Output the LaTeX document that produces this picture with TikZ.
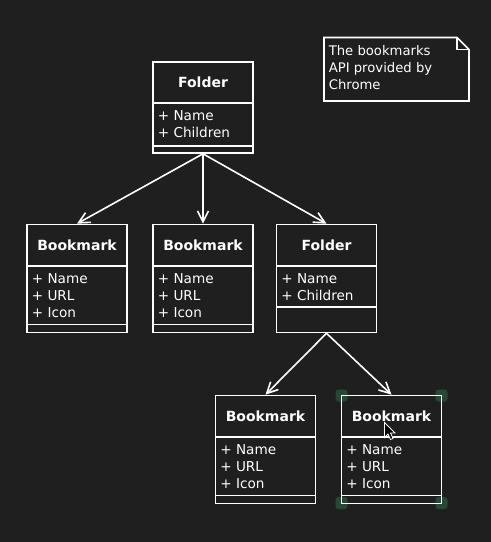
\documentclass[tikz,border=0pt]{standalone}
\usepackage{fontspec}
\setmainfont{DejaVu Sans}
\usepackage{tikz}
\usetikzlibrary{arrows.meta}
\definecolor{bg}{HTML}{1F1F1F}
\definecolor{handle}{HTML}{244A35}

\begin{document}
\begin{tikzpicture}[x=1pt,y=-1pt, white, line width=1.6pt,
    cls/.style={draw=white, minimum width=100pt, inner sep=0},
    title/.style={font=\fontsize{14}{17}\selectfont\bfseries, anchor=base, inner sep=0},
    attr/.style={font=\fontsize{13.6}{17}\selectfont, anchor=base west, inner sep=0},
    link/.style={draw=white, -{Straight Barb[length=11pt,width=11pt]}}]
    \fill[bg] (0,0) rectangle (491,542);
    \useasboundingbox (0,0) rectangle (491,542);
    % selection handles
    \foreach \hx/\hy in {341.5/395.5, 441.5/395.5, 341.5/503, 441.5/503}
        \fill[handle, rounded corners=3pt] ({\hx-6},{\hy-6}) rectangle ({\hx+6},{\hy+6});
    % top folder
    \node[cls, minimum height=91pt] (f0) at (203,107.5) {};
    \node[title] (f0t) at (203,87.5) {Folder};
    \draw (153,103) -- (253,103);
    \draw (153,146) -- (253,146);
    \node[attr] (f0a) at (157,120.5) {+ Name};
    \node[attr] (f0b) at (157,137.5) {+ Children};
    % bookmarks
    \foreach \n/\x/\y in {b1/77/224.5, b2/203/224.5, b3/265.5/395.5, b4/391.5/395.5}{
        \node[cls, minimum height=108pt] (\n) at (\x,{\y+54}) {};
        \node[title] at (\x,{\y+25.5}) {Bookmark};
        \draw ({\x-50},{\y+41.5}) -- ({\x+50},{\y+41.5});
        \draw ({\x-50},{\y+100}) -- ({\x+50},{\y+100});
        \node[attr] at ({\x-46},{\y+58.5}) {+ Name};
        \node[attr] at ({\x-46},{\y+75.5}) {+ URL};
        \node[attr] at ({\x-46},{\y+92.5}) {+ Icon};
    }
    % inner folder
    \node[cls, minimum height=108pt] (f1) at (326.5,278.5) {};
    \node[title] (f1t) at (326.5,250) {Folder};
    \draw (276.5,266) -- (376.5,266);
    \draw (276.5,307) -- (376.5,307);
    \node[attr] (f1a) at (280.5,283) {+ Name};
    \node[attr] (f1b) at (280.5,300) {+ Children};
    % note
    \draw (324,37.5) -- (457,37.5) -- (469,49.5) -- (469,101) -- (324,101) -- cycle;
    \draw (457,37.5) -- (457,49.5) -- (469,49.5);
    \node[attr, font=\fontsize{13.2}{17}\selectfont, align=left] (note) at (328,89) {The bookmarks\\API provided by\\Chrome};
    % links
    \draw[link] (f0.south) -- (b1.north);
    \draw[link] (f0.south) -- (b2.north);
    \draw[link] (f0.south) -- (f1.north);
    \draw[link] (f1.south) -- (b3.north);
    \draw[link] (f1.south) -- (b4.north);
    % pointer
    \draw[fill=black, line width=0.8pt, shift={(384.5,422.5)}]
        (0,0) -- (0,15) -- (3.5,11.5) -- (6,17) -- (8.5,16) -- (6,10.5) -- (10.5,10.5) -- cycle;
\end{tikzpicture}
\end{document}
